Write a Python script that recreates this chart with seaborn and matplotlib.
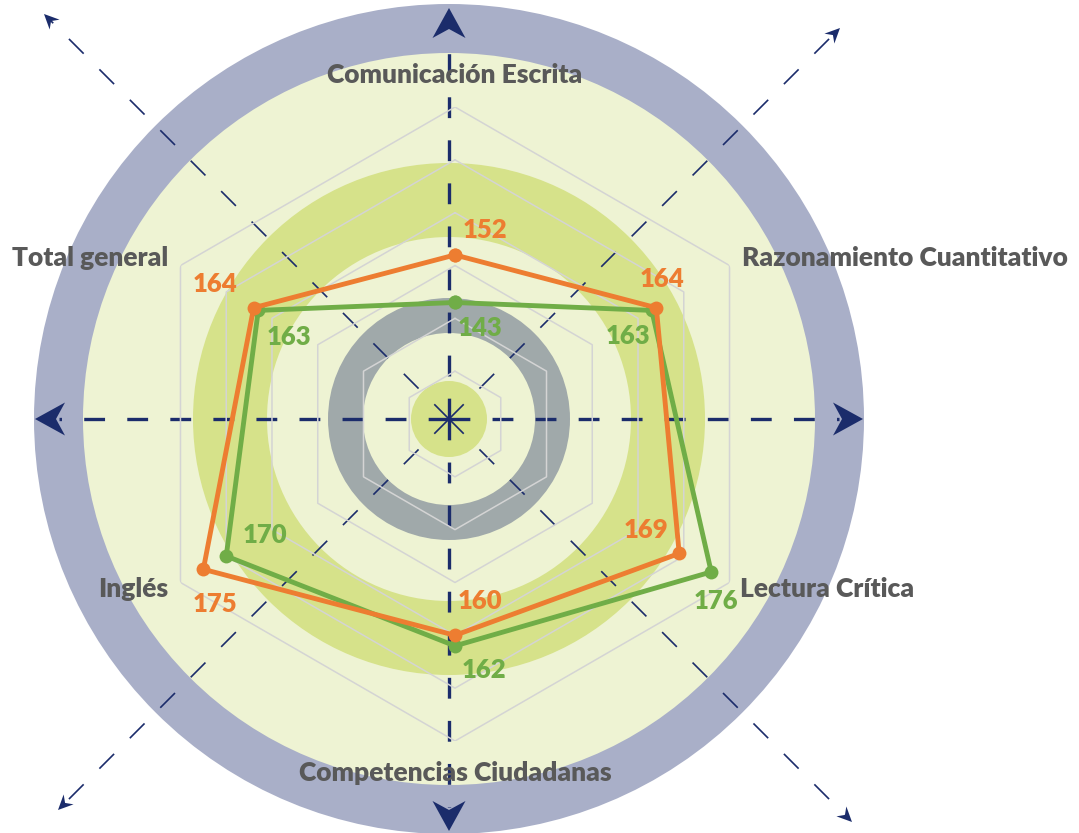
import numpy as np
import pandas as pd
import matplotlib
matplotlib.use("Agg")
import matplotlib.pyplot as plt
from matplotlib.patches import Circle, Polygon
import seaborn as sns

# data
categories = ["Comunicación Escrita", "Razonamiento Cuantitativo", "Lectura Crítica",
              "Competencias Ciudadanas", "Inglés", "Total general"]
orange_vals = [152, 164, 169, 160, 175, 164]
green_vals = [143, 163, 176, 162, 170, 163]
ring_levels = [130, 140, 150, 160, 170, 180]
r_min, r_max = 120, 180

ORANGE = "#ed7d31"
GREEN = "#70ad47"
NAVY = "#1b2c6b"
TXT = "#595959"

sns.set_theme(style="white")
plt.rcParams["font.family"] = ["Lato", "DejaVu Sans"]
plt.rcParams["lines.scale_dashes"] = False

W, H = 1079, 833
fig = plt.figure(figsize=(W / 100, H / 100), dpi=100)

# ---- background: circles + dashed arrows, in pixel coords
bg = fig.add_axes([0, 0, 1, 1])
bg.set_xlim(0, W)
bg.set_ylim(H, 0)
bg.set_axis_off()
cx, cy = 449, 419
for r, col in [(415, "#a9afc8"), (366, "#eef3d3"), (256, "#d6e28a"), (182, "#eef3d3"),
               (121, "#a0a9aa"), (86, "#eef3d3"), (38, "#d6e28a")]:
    bg.add_patch(Circle((cx, cy), r, color=col, lw=0, zorder=1))


def stealth(tip, direction, length, width, notch):
    d = np.array(direction, float)
    d /= np.hypot(*d)
    n = np.array([-d[1], d[0]])
    tip = np.array(tip, float)
    back = tip - d * length
    pts = [tip, back + n * width / 2, tip - d * notch, back - n * width / 2]
    return Polygon(pts, closed=True, color=NAVY, lw=0, zorder=3)


# main axes arrows (thick)
main_tips = [(35, cy), (863, cy), (cx, 8), (cx, 831)]
for tx, ty in main_tips:
    d = (tx - cx, ty - cy)
    u = np.array(d, float) / np.hypot(*d)
    end = np.array([tx, ty]) - u * 24
    bg.plot([cx, end[0]], [cy, end[1]], color=NAVY, lw=2.4, dashes=(15, 16), zorder=2,
            solid_capstyle="butt", dash_capstyle="butt")
    bg.add_patch(stealth((tx, ty), d, 30, 33, 21))

# diagonal arrows (thin)
diag_tips = [(44, 14), (840, 28), (58, 810), (852, 822)]
for tx, ty in diag_tips:
    d = (tx - cx, ty - cy)
    u = np.array(d, float) / np.hypot(*d)
    end = np.array([tx, ty]) - u * 10
    bg.plot([cx, end[0]], [cy, end[1]], color=NAVY, lw=1.2, dashes=(15, 16), zorder=2,
            dash_capstyle="butt")
    bg.add_patch(stealth((tx, ty), d, 15, 14, 10))

# ---- radar (polar axes)
pcx, pcy, prad = 455, 424, 317
axp = fig.add_axes([(pcx - prad) / W, (H - pcy - prad) / H, 2 * prad / W, 2 * prad / H],
                   projection="polar", zorder=2)
axp.set_facecolor("none")
axp.patch.set_alpha(0)
axp.set_theta_offset(np.pi / 2)
axp.set_theta_direction(-1)

theta = np.linspace(0, 2 * np.pi, len(categories), endpoint=False)
theta_c = np.append(theta, 2 * np.pi)

for lvl in ring_levels:
    axp.plot(theta_c, [lvl] * len(theta_c), color="#d4d4d4", lw=1.1, zorder=1)

df = pd.DataFrame({
    "theta": np.concatenate([theta_c, theta_c]),
    "value": orange_vals + orange_vals[:1] + green_vals + green_vals[:1],
    "serie": ["orange"] * 7 + ["green"] * 7,
})
for serie, col in [("green", GREEN), ("orange", ORANGE)]:
    sub = df[df["serie"] == serie]
    sns.lineplot(data=sub, x="theta", y="value", ax=axp, sort=False, color=col, lw=3.5,
                 marker="o", markersize=10, markeredgewidth=0, zorder=3)

axp.set_ylim(r_min, r_max)
axp.set_xticks([])
axp.set_yticks([])
axp.grid(False)
axp.spines["polar"].set_visible(False)
axp.set_xlabel("")
axp.set_ylabel("")

# category labels
cat_off = [(0, 32), (12, 7.5), (10, -6.5), (0, -32), (-12.5, -6.5), (-12.5, 7.5)]
cat_ha = ["center", "left", "left", "center", "right", "right"]
for t, name, off, ha in zip(theta, categories, cat_off, cat_ha):
    axp.annotate(name, (t, r_max), xytext=off, textcoords="offset pixels", ha=ha, va="center",
                 fontsize=19, fontweight="heavy", color=TXT, annotation_clip=False, zorder=5)

# value labels
orange_off = [(30, 25), (6, 29), (-33, 23), (25, 34), (12, -35), (-39, 24)]
green_off = [(25, -26), (-24, -26), (5, -29), (29, -24), (39, 21), (31, -27)]
for vals, offs, col in [(orange_vals, orange_off, ORANGE), (green_vals, green_off, GREEN)]:
    for t, v, off in zip(theta, vals, offs):
        axp.annotate(str(v), (t, v), xytext=off, textcoords="offset pixels", ha="center",
                     va="center", fontsize=18.5, fontweight="heavy", color=col,
                     annotation_clip=False, zorder=5)

fig.savefig("out.png", dpi=100)
